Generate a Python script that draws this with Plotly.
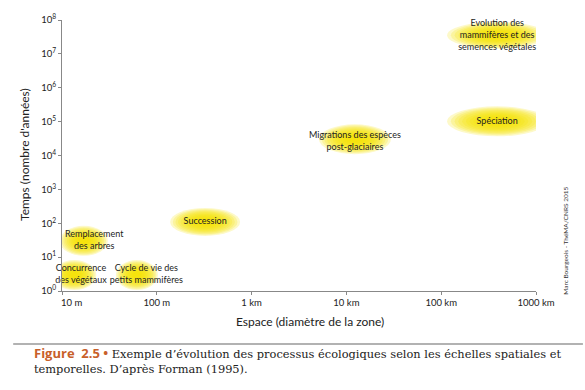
import plotly.graph_objects as go

# Processes: position as log10(space in m), log10(time in years)
labels = ["Remplacement<br>des arbres", "Concurrence<br>des végétaux", "Cycle de vie des<br>petits mammifères",
          "Succession", "Migrations des espèces<br>post-glaciaires", "Spéciation",
          "Evolution des<br>mammifères et des<br>semences végétales"]
space_log = [1.23, 1.13, 1.79, 2.51, 4.09, 5.59, 5.59]
time_log = [1.48, 0.47, 0.47, 2.04, 4.48, 5.01, 7.55]
text_x_log = [1.34, 1.2, 1.89, 2.51, 4.09, 5.59, 5.59]
text_y_log = [1.48, 0.47, 0.47, 2.04, 4.40, 5.01, 7.53]
blob_w = [48, 44, 42, 70, 72, 100, 100]
blob_h = [30, 30, 30, 28, 30, 30, 27]

x_tickvals = [1, 2, 3, 4, 5, 6]
x_ticktext = ["&nbsp;&nbsp;&nbsp;&nbsp;&nbsp;&nbsp;&nbsp;&nbsp;10 m", "100 m", "1 km", "10 km", "100 km", "1000 km"]
y_tickvals = list(range(0, 9))
y_ticktext = ["10<sup>%d</sup>" % i for i in y_tickvals]

FONT = "Lato"
fig = go.Figure()

fig.add_trace(go.Scatter(x=text_x_log, y=text_y_log, mode="text", text=labels, cliponaxis=False,
                         textfont=dict(family=FONT, size=9, color="#222"),
                         hoverinfo="skip", showlegend=False))

shapes = []
n = 12
for cx, cy, w, h in zip(space_log, time_log, blob_w, blob_h):
    for k in range(n):
        s = 1.0 - k / n * 0.9
        shapes.append(dict(type="circle", xref="x", yref="y", xsizemode="pixel", ysizemode="pixel",
                           xanchor=cx, yanchor=cy, x0=-w / 2 * s, x1=w / 2 * s, y0=-h / 2 * s, y1=h / 2 * s,
                           fillcolor="rgba(246,228,0,0.21)", line=dict(width=0), layer="below"))

shapes.append(dict(type="line", xref="paper", yref="paper", x0=-0.103, x1=1.099, y0=-0.196, y1=-0.196,
                   line=dict(color="#999", width=1.5)))

annotations = [
    dict(text="Espace (diamètre de la zone)", xref="paper", yref="paper", x=0.523, y=-0.114,
         xanchor="center", yanchor="middle",
         showarrow=False, font=dict(family=FONT, size=12, color="#222")),
    dict(text="Temps (nombre d'années)", xref="paper", yref="paper", x=-0.078, y=0.502, textangle=-90,
         xanchor="center", yanchor="middle",
         showarrow=False, font=dict(family=FONT, size=12, color="#222")),
    dict(text="Marc Bourgeois - ThéMA/CNRS 2015", xref="paper", yref="paper", x=1.063, y=0.185, textangle=-90,
         xanchor="center", yanchor="middle",
         showarrow=False, font=dict(family=FONT, size=6.5, color="#333")),
    dict(text="<span style='font-family:Open Sans;font-size:13px;color:#c8602a'><b>Figure  2.5 •</b></span> "
              "Exemple d’évolution des processus écologiques selon les échelles spatiales et<br>"
              "temporelles. D’après Forman (1995).",
         xref="paper", yref="paper", x=-0.063, y=-0.187, xanchor="left", yanchor="top", align="left",
         showarrow=False, font=dict(family="DejaVu Serif", size=11.4, color="#222")),
]

fig.update_layout(
    width=585, height=390, margin=dict(l=62, r=49, t=20, b=99),
    paper_bgcolor="white", plot_bgcolor="white",
    shapes=shapes, annotations=annotations,
    xaxis=dict(range=[1, 6], tickvals=x_tickvals, ticktext=x_ticktext, showgrid=False, zeroline=False,
               showline=True, linecolor="#888", linewidth=1, ticks="outside", ticklen=3, tickcolor="#888",
               tickfont=dict(family=FONT, size=9.5, color="#222")),
    yaxis=dict(range=[0, 8], tickvals=y_tickvals, ticktext=y_ticktext, showgrid=False, zeroline=False,
               showline=True, linecolor="#888", linewidth=1, ticks="outside", ticklen=3, tickcolor="#888",
               tickfont=dict(family=FONT, size=9.5, color="#222")),
)

fig.write_html("out.html", config={"displayModeBar": False},
               post_script="document.body.style.margin='0';")
